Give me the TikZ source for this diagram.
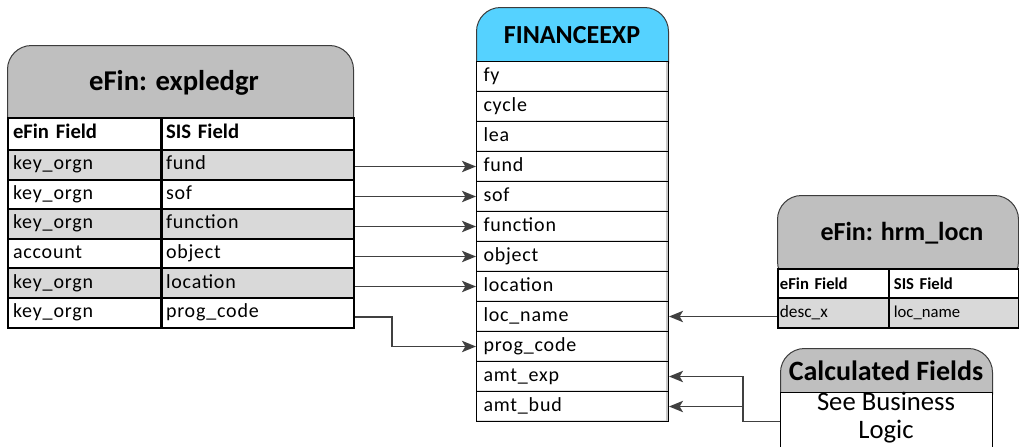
\documentclass[tikz,border=0pt]{standalone}
\usepackage{fontspec}
\setmainfont{Carlito}
\newfontfamily\rowfont[LetterSpace=4]{Carlito}
\usetikzlibrary{arrows.meta}
\definecolor{hgray}{RGB}{191,191,191}
\definecolor{rgray}{RGB}{217,217,217}
\definecolor{hcyan}{RGB}{85,210,255}
\definecolor{arrgray}{RGB}{64,64,64}
\definecolor{edgegray}{RGB}{60,60,60}
\begin{document}
\begin{tikzpicture}[x=0.75pt,y=-0.75pt,
  hdrbox/.style={draw=edgegray, line width=0.75pt, rounded corners=18pt, anchor=north west, inner sep=0pt},
  titletext/.style={font=\bfseries\fontsize{20}{24}\selectfont, inner sep=0pt},
  rowtxt/.style={font=\rowfont\fontsize{15}{18}\selectfont, text height=10.5pt, text depth=3.2pt},
  lcell/.style={draw=black, line width=1.5pt, anchor=north west, minimum height=22.2pt, inner ysep=0pt, align=left, rowtxt},
  lcolA/.style={lcell, text width=107.25pt, inner xsep=3.75pt, minimum width=114.75pt},
  lcolB/.style={lcell, text width=138pt, inner xsep=3pt, minimum width=144pt},
  lhdrtxt/.style={font=\bfseries\fontsize{15.5}{18}\selectfont, minimum height=24pt, fill=white},
  fcell/.style={draw=black, line width=0.75pt, fill=white, anchor=north west, text width=133.5pt, inner xsep=5.25pt, inner ysep=0pt, minimum width=144pt, minimum height=22.5pt, align=left, rowtxt},
  hcell/.style={draw=black, line width=1.3pt, anchor=north west, inner ysep=0pt, align=left},
  hcolA/.style={hcell, text width=80.25pt, inner xsep=1.5pt, minimum width=83.25pt},
  hcolB/.style={hcell, text width=90pt, inner xsep=3.75pt, minimum width=97.5pt},
  conn/.style={draw=arrgray, line width=1.3pt, -{Stealth[length=10.5pt,width=8.5pt,inset=2.5pt]}}
]
\useasboundingbox (0,0) rectangle (1019,446);

% ---------- left table eFin: expledgr ----------
\node[hdrbox, fill=hgray, minimum width=346*0.75pt, minimum height=95*0.75pt] (lhdr) at (7,45) {};
\node[titletext, font=\bfseries\fontsize{21.5}{25}\selectfont] (ltitle) at (174,83) {eFin: expledgr};
\node[lcolA, lhdrtxt] (lha) at (7,117) {eFin Field};
\node[lcolB, lhdrtxt] (lhb) at (161,117) {SIS Field};
\foreach \a/\b/\c [count=\k] in {key\_orgn/fund/rgray, key\_orgn/sof/white, key\_orgn/function/rgray, account/object/white, key\_orgn/location/rgray, key\_orgn/prog\_code/white}{
  \node[lcolA, fill=\c] (la\k) at (7,{149+29.6*(\k-1)}) {\a};
  \node[lcolB, fill=\c] (lb\k) at (161,{149+29.6*(\k-1)}) {\b};
}

% ---------- FINANCEEXP ----------
\node[hdrbox, fill=hcyan, minimum width=192*0.75pt, minimum height=80*0.75pt] (fhdr) at (476,7) {};
\node[titletext, font=\bfseries\fontsize{19.5}{23}\selectfont] (ftitle) at (572,35) {FINANCEEXP};
\foreach \n/\t [count=\k from 0] in {fy/fy, cycle/cycle, lea/lea, fund/fund, sof/sof, func/function, obj/object, loc/location, locname/loc\_name, prog/prog\_code, amtexp/amt\_exp, amtbud/amt\_bud}{
  \node[fcell] (f\n) at (476,{61+30*\k}) {\t};
  \draw[black!22, line width=1.5pt] ([xshift=-1.4pt,yshift=-0.8pt]f\n.north east) -- ([xshift=-1.4pt,yshift=0.8pt]f\n.south east);
  \draw[black!12, line width=1.2pt] ([xshift=0.8pt,yshift=1.2pt]f\n.south west) -- ([xshift=-2pt,yshift=1.2pt]f\n.south east);
}

% ---------- eFin: hrm_locn ----------
\node[hdrbox, fill=hgray, minimum width=241*0.75pt, minimum height=90*0.75pt] (hhdr) at (777,195) {};
\node[titletext, font=\bfseries\fontsize{19.5}{23}\selectfont] (htitle) at (902,233) {eFin: hrm\_locn};
\node[hcolA, fill=white, minimum height=21.75pt, font=\bfseries\fontsize{12.5}{15}\selectfont] (ha1) at (777,268) {eFin Field};
\node[hcolB, fill=white, minimum height=21.75pt, font=\bfseries\fontsize{12.5}{15}\selectfont] (hb1) at (888,268) {SIS Field};
\node[hcolA, fill=rgray, minimum height=22.5pt, font=\fontsize{13}{15}\selectfont] (ha2) at (777,297) {desc\_x};
\node[hcolB, fill=rgray, minimum height=22.5pt, font=\fontsize{12.5}{15}\selectfont] (hb2) at (888,297) {loc\_name};

% ---------- Calculated Fields ----------
\node[hdrbox, fill=hgray, minimum width=212*0.75pt, minimum height=70*0.75pt] (chdr) at (780,348) {};
\node[titletext, font=\bfseries\fontsize{21}{25}\selectfont] (ctitle) at (886,371) {Calculated Fields};
\node[draw=black, line width=0.9pt, fill=white, anchor=north west, minimum width=212*0.75pt, minimum height=58*0.75pt, inner sep=0pt] (cbox) at (780,392) {};
\node[inner sep=0pt, align=center, font=\fontsize{20}{21}\selectfont] (ctext) at (886,417.5) {See Business\\Logic};

% ---------- connectors ----------
\draw[conn] (lb1.east |- ffund.west) -- (ffund.west);
\draw[conn] (lb2.east |- fsof.west) -- (fsof.west);
\draw[conn] (lb3.east |- ffunc.west) -- (ffunc.west);
\draw[conn] (lb4.east |- fobj.west) -- (fobj.west);
\draw[conn] (lb5.east |- floc.west) -- (floc.west);
\draw[conn] ([yshift=-3pt]lb6.east) -- ++(37,0) |- (fprog.west);
\draw[conn] (ha2.west |- flocname.east) -- (flocname.east);
\draw[conn] (cbox.west) -- ++(-37,0) |- (famtexp.east);
\draw[conn] (cbox.west) -- ++(-37,0) |- (famtbud.east);
\end{tikzpicture}
\end{document}
